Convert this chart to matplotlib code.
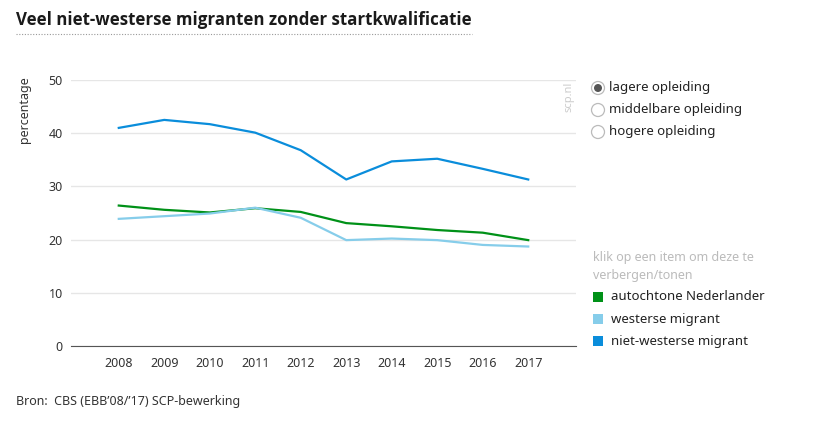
import matplotlib.pyplot as plt
from matplotlib.patches import Ellipse, Rectangle
from matplotlib.lines import Line2D

plt.rcParams['font.family'] = ['Noto Sans', 'DejaVu Sans']

jaren = ['2008', '2009', '2010', '2011', '2012', '2013', '2014', '2015', '2016', '2017']
autochtoon = [26.4, 25.6, 25.1, 25.9, 25.2, 23.1, 22.5, 21.8, 21.3, 19.9]
westers = [23.9, 24.4, 24.9, 26.0, 24.1, 19.9, 20.2, 19.9, 19.0, 18.7]
niet_westers = [41.0, 42.5, 41.7, 40.1, 36.8, 31.3, 34.7, 35.2, 33.3, 31.3]
reeksen = ['autochtone Nederlander', 'westerse migrant', 'niet-westerse migrant']
kleuren = ['#009118', '#86cdea', '#0a8ddb']
opleidingen = ['lagere opleiding', 'middelbare opleiding', 'hogere opleiding']

fig = plt.figure(figsize=(8.19, 4.21), dpi=100)
W, H = 819, 421
ax = fig.add_axes([71 / W, 1 - 346 / H, (576 - 71) / W, (346 - 80) / H])

x = range(len(jaren))
for vals, kleur in zip([autochtoon, westers, niet_westers], kleuren):
    ax.plot(x, vals, color=kleur, lw=1.6, solid_joinstyle='round')

ax.set_xlim(-1.05, len(jaren) - 1 + 1.05)
ax.set_ylim(0, 50)
ax.set_yticks(range(0, 51, 10))
ax.set_xticks(list(x))
ax.set_xticklabels(jaren)
ax.grid(axis='y', color='#e6e6e6', lw=1)
ax.set_axisbelow(True)
for s in ['top', 'right', 'left']:
    ax.spines[s].set_visible(False)
ax.spines['bottom'].set_color('#555555')
ax.tick_params(axis='both', length=0, labelsize=9, colors='#333333')
ax.tick_params(axis='y', pad=6)
ax.tick_params(axis='x', pad=8)

fig.text(16 / W, 1 - 20 / H, 'Veel niet-westerse migranten zonder startkwalificatie',
         fontsize=12.2, fontweight='bold', family=['Open Sans', 'DejaVu Sans'],
         color='#1a1a1a', va='center', ha='left')
fig.add_artist(Line2D([16 / W, 472 / W], [1 - 34 / H, 1 - 34 / H], color='#999999',
                      lw=0.8, ls=(0, (1, 1.5))))
fig.text(24 / W, 1 - 110 / H, 'percentage', rotation=90, fontsize=9, color='#333333',
         ha='center', va='center')
fig.text(569 / W, 1 - 82 / H, 'scp.nl', rotation=90, fontsize=8, color='#cccccc',
         ha='center', va='top')

# keuzeknoppen
for i, opl in enumerate(opleidingen):
    yy = 88 + 22 * i
    fig.add_artist(Ellipse((598 / W, 1 - yy / H), 13 / W, 13 / H, transform=fig.transFigure,
                           facecolor='white', edgecolor='#bbbbbb', lw=0.9))
    if i == 0:
        fig.add_artist(Ellipse((598 / W, 1 - yy / H), 8 / W, 8 / H, transform=fig.transFigure,
                               facecolor='#555555', edgecolor='none'))
    fig.text(609 / W, 1 - yy / H, opl, fontsize=9.5, color='#222222', va='center')

fig.text(593 / W, 1 - 258 / H, 'klik op een item om deze te', fontsize=9,
         color='#bbbbbb', va='center')
fig.text(593 / W, 1 - 276 / H, 'verbergen/tonen', fontsize=9, color='#bbbbbb', va='center')
for i, (naam, kleur) in enumerate(zip(reeksen, kleuren)):
    yy = 297 + 22 * i
    fig.add_artist(Rectangle((593 / W, 1 - (yy + 5) / H), 10 / W, 10 / H,
                             transform=fig.transFigure, facecolor=kleur, edgecolor='none'))
    fig.text(611 / W, 1 - yy / H, naam, fontsize=9.5, color='#222222', va='center')

fig.text(16 / W, 1 - 402 / H, 'Bron:  CBS (EBB\u201908/\u201917) SCP-bewerking', fontsize=9,
         color='#333333', va='center')

fig.savefig('out.png', dpi=100)
